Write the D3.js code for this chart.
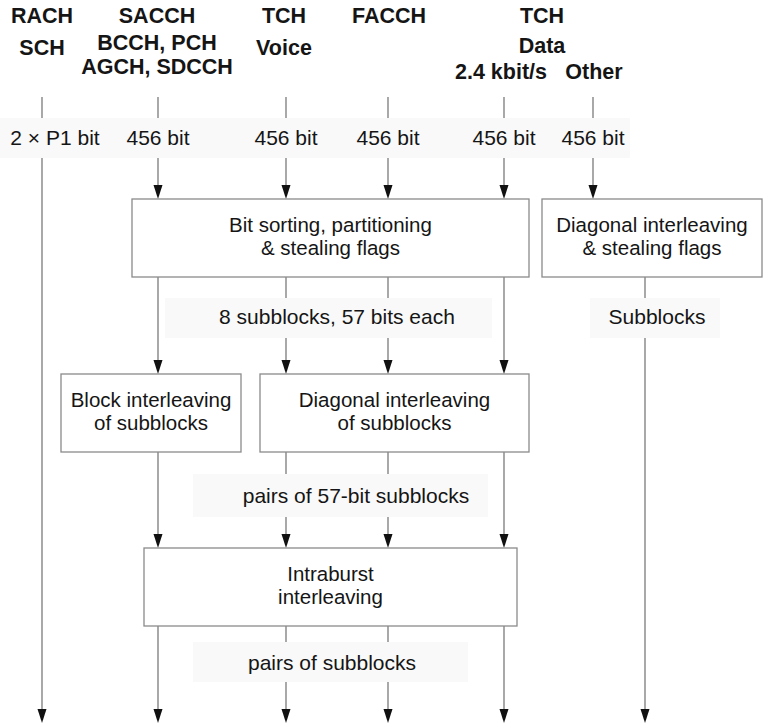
<!DOCTYPE html>
<html><head><meta charset="utf-8">
<script src="https://cdn.jsdelivr.net/npm/d3@7"></script>
<style>html,body{margin:0;padding:0;background:#fff;}svg{display:block;}</style>
</head><body>
<script>
// ---- data ----
const columns = ["RACH", "SACCH", "Voice", "FACCH", "Data", "Other", "OtherOut"];
const headerLines = [
  {col: "RACH", lines: ["RACH", "SCH"]},
  {col: "SACCH", lines: ["SACCH", "BCCH, PCH", "AGCH, SDCCH"]},
  {col: "Voice", lines: ["TCH", "Voice"]},
  {col: "FACCH", lines: ["FACCH"]},
  {col: "Data", lines: ["TCH", "Data"]}
];
const subHeaders = [{col: "Data", text: "2.4 kbit/s"}, {col: "Other", text: "Other"}];
const inputSizes = ["2 \u00d7 P1 bit", "456 bit", "456 bit", "456 bit", "456 bit", "456 bit"];
const boxes = [
  {id: "sort", lines: ["Bit sorting, partitioning", "& stealing flags"]},
  {id: "diagR", lines: ["Diagonal interleaving", "& stealing flags"]},
  {id: "block", lines: ["Block interleaving", "of subblocks"]},
  {id: "diag", lines: ["Diagonal interleaving", "of subblocks"]},
  {id: "intra", lines: ["Intraburst", "interleaving"]}
];
const midLabels = [
  {id: "sub8", text: "8 subblocks, 57 bits each"},
  {id: "subR", text: "Subblocks"},
  {id: "pairs57", text: "pairs of 57-bit subblocks"},
  {id: "pairs", text: "pairs of subblocks"}
];
// flows: column, from stage, to stage
const flows = [
  ["RACH", "top", "end"],
  ["SACCH", "top", "sortTop"], ["SACCH", "sortBot", "ilTop"], ["SACCH", "ilBot", "intraTop"], ["SACCH", "intraBot", "end"],
  ["Voice", "top", "sortTop"], ["Voice", "sortBot", "ilTop"], ["Voice", "ilBot", "intraTop"], ["Voice", "intraBot", "end"],
  ["FACCH", "top", "sortTop"], ["FACCH", "sortBot", "ilTop"], ["FACCH", "ilBot", "intraTop"], ["FACCH", "intraBot", "end"],
  ["Data", "top", "sortTop"], ["Data", "sortBot", "ilTop"], ["Data", "ilBot", "intraTop"], ["Data", "intraBot", "end"],
  ["Other", "top", "sortTop"],
  ["OtherOut", "sortBot", "end"]
];

// ---- layout scales ----
const W = 764, H = 727;
const x = d3.scaleOrdinal().domain(columns).range([42, 158, 286, 388, 504, 593, 645]);
const yStages = ["top", "sortTop", "sortBot", "ilTop", "ilBot", "intraTop", "intraBot", "end"];
const y = d3.scaleOrdinal().domain(yStages).range([97, 199, 277, 374, 452, 548, 626, 723]);
const boxGeom = {
  sort: [132, 529, "sortTop", "sortBot"],
  diagR: [542, 762, "sortTop", "sortBot"],
  block: [61, 241, "ilTop", "ilBot"],
  diag: [260, 529, "ilTop", "ilBot"],
  intra: [144, 517, "intraTop", "intraBot"]
};
const labelGeom = {
  sub8: {bx: [165, 492], by: [298, 338], cx: 337, base: 324},
  subR: {bx: [590, 720], by: [298, 338], cx: 657, base: 324},
  pairs57: {bx: [193, 488], by: [474, 517], cx: 356, base: 503},
  pairs: {bx: [193, 468], by: [642, 682], cx: 332, base: 670}
};

const svg = d3.select("body").append("svg").attr("width", W).attr("height", H);
const FONT = "'Liberation Sans', Arial, Helvetica, sans-serif";
const lineCol = "#7a7a7a", txtCol = "#151515", bandCol = "#f9f9f9";
const FS = 21, FSB = 21.5, FSBOX = 20.5, LEAD = 23;

// flow lines
svg.append("g").selectAll("line").data(flows).join("line")
  .attr("x1", d => x(d[0])).attr("x2", d => x(d[0]))
  .attr("y1", d => y(d[1])).attr("y2", d => y(d[2]) - 6)
  .attr("stroke", lineCol).attr("stroke-width", 1.3);

// label bands (cover lines)
svg.append("rect").attr("x", 0).attr("y", 118).attr("width", 630).attr("height", 40).attr("fill", bandCol);
svg.append("g").selectAll("rect").data(midLabels).join("rect")
  .attr("x", d => labelGeom[d.id].bx[0]).attr("y", d => labelGeom[d.id].by[0])
  .attr("width", d => labelGeom[d.id].bx[1] - labelGeom[d.id].bx[0])
  .attr("height", d => labelGeom[d.id].by[1] - labelGeom[d.id].by[0])
  .attr("fill", bandCol);

// arrowheads
svg.append("g").selectAll("path").data(flows).join("path")
  .attr("d", d => {
    const tx = x(d[0]), ty = y(d[2]);
    return `M${tx - 4.5},${ty - 14} L${tx + 4.5},${ty - 14} L${tx},${ty} Z`;
  })
  .attr("fill", "#111");

// boxes
const bg = svg.append("g").selectAll("g").data(boxes).join("g");
bg.append("rect")
  .attr("x", d => boxGeom[d.id][0]).attr("y", d => y(boxGeom[d.id][2]))
  .attr("width", d => boxGeom[d.id][1] - boxGeom[d.id][0])
  .attr("height", d => y(boxGeom[d.id][3]) - y(boxGeom[d.id][2]))
  .attr("fill", "none").attr("stroke", "#8a8a8a").attr("stroke-width", 1.3);
bg.each(function(d) {
  const cx = (boxGeom[d.id][0] + boxGeom[d.id][1]) / 2;
  const top = y(boxGeom[d.id][2]), bot = y(boxGeom[d.id][3]);
  const mid = (top + bot) / 2;
  const t = d3.select(this).append("text").attr("text-anchor", "middle")
    .attr("font-family", FONT).attr("font-size", FSBOX).attr("fill", txtCol);
  d.lines.forEach((s, i) => {
    t.append("tspan").attr("x", cx).attr("y", mid - 6.5 + i * LEAD).text(s);
  });
});

// headers
const headerX = {RACH: 42, SACCH: 157, Voice: 284, FACCH: 389, Data: 542};
const headerBase = [23, 55, 74];
headerLines.forEach(h => {
  h.lines.forEach((t, i) => {
    svg.append("text").attr("x", headerX[h.col]).attr("y", h.col === "Data" && i === 1 ? 53 : (h.col === "SACCH" && i === 1 ? 50 : headerBase[i]))
      .attr("text-anchor", "middle").attr("font-family", FONT).attr("font-weight", "bold")
      .attr("font-size", FSB).attr("fill", txtCol).text(t);
  });
});
const subX = {Data: 501, Other: 594};
subHeaders.forEach(s => {
  svg.append("text").attr("x", subX[s.col]).attr("y", 79).attr("text-anchor", "middle")
    .attr("font-family", FONT).attr("font-weight", "bold").attr("font-size", FSB)
    .attr("fill", txtCol).text(s.text);
});

// input sizes
svg.append("g").selectAll("text").data(inputSizes).join("text")
  .attr("x", (d, i) => i === 0 ? 55 : x(columns[i]))
  .attr("y", 145).attr("text-anchor", "middle")
  .attr("font-family", FONT).attr("font-size", FS).attr("fill", txtCol).text(d => d);

// mid labels
svg.append("g").selectAll("text").data(midLabels).join("text")
  .attr("x", d => labelGeom[d.id].cx).attr("y", d => labelGeom[d.id].base)
  .attr("text-anchor", "middle").attr("font-family", FONT).attr("font-size", FS)
  .attr("fill", txtCol).text(d => d.text);
</script>
</body></html>
